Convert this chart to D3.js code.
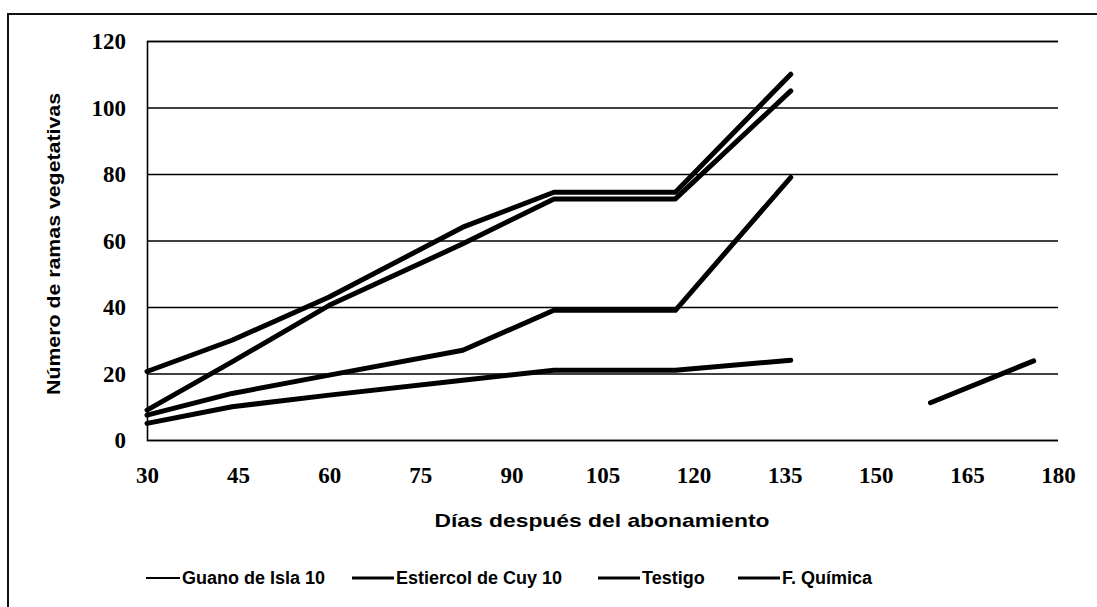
<!DOCTYPE html>
<html>
<head>
<meta charset="utf-8">
<script src="https://cdn.jsdelivr.net/npm/d3@7"></script>
<style>
  html, body { margin: 0; padding: 0; background: #fff; }
  svg { display: block; }
  .tick-label { font-family: "Liberation Serif", "Times New Roman", serif; font-weight: bold; font-size: 23px; fill: #000; }
  .axis-title, .legend-text { font-family: "Liberation Sans", Arial, sans-serif; font-weight: bold; fill: #000; }
</style>
</head>
<body>
<svg id="chart" width="1097" height="607"></svg>
<script>
// Días de muestreo después del abonamiento
const days = [30, 44, 60, 82, 97, 117, 136];

// Número de ramas vegetativas por tratamiento
const guanoIsla10    = [20.6, 30, 43, 64, 74.5, 74.5, 110];
const estiercolCuy10 = [9, 23.5, 40.5, 59, 72.5, 72.5, 105];
const testigo        = [5, 10, 13.5, 18, 21, 21, 24];
const fQuimica       = [7.5, 14, 19.5, 27, 39, 39, 79];

// Tramo final registrado por separado
const lateDays = [159, 176];
const lateValues = [11.2, 23.8];

const seriesNames = ["Guano de Isla 10", "Estiercol de Cuy 10", "Testigo", "F. Química"];
const xTicks = [30, 45, 60, 75, 90, 105, 120, 135, 150, 165, 180];
const yTicks = [0, 20, 40, 60, 80, 100, 120];

const svg = d3.select("#chart");
const W = 1097, H = 607;
const plot = { left: 147, right: 1058, top: 41, bottom: 440 };

const x = d3.scaleLinear().domain([30, 180]).range([plot.left, plot.right]);
const y = d3.scaleLinear().domain([0, 120]).range([plot.bottom, plot.top]);

// Marco exterior (borde superior e izquierdo)
svg.append("path")
  .attr("d", `M8,${H} L8,14 L${W},14`)
  .attr("fill", "none")
  .attr("stroke", "#111")
  .attr("stroke-width", 2);

// Líneas de cuadrícula horizontales y eje vertical
const yAxis = d3.axisLeft(y).tickValues(yTicks).tickSize(-(plot.right - plot.left)).tickFormat(d3.format("d"));
const gy = svg.append("g").attr("transform", `translate(${plot.left},0)`).call(yAxis);
gy.select(".domain").attr("stroke", "#000").attr("stroke-width", 1.6);
gy.selectAll(".tick line").attr("stroke", "#000").attr("stroke-width", 1.6);
gy.selectAll(".tick text").attr("class", "tick-label").attr("x", -21).attr("dy", "0.34em");

// Eje X: sólo etiquetas
const xAxis = d3.axisBottom(x).tickValues(xTicks).tickSize(0).tickFormat(d3.format("d"));
const gx = svg.append("g").attr("transform", `translate(0,${plot.bottom})`).call(xAxis);
gx.select(".domain").remove();
gx.selectAll(".tick text").attr("class", "tick-label").attr("y", 27).attr("dy", "0.71em");

// Series
const line = d3.line().x(d => x(d[0])).y(d => y(d[1]));
const allSeries = [guanoIsla10, estiercolCuy10, testigo, fQuimica];
const g = svg.append("g");
allSeries.forEach(vals => {
  g.append("path")
    .datum(days.map((d, i) => [d, vals[i]]))
    .attr("d", line)
    .attr("fill", "none")
    .attr("stroke", "#000")
    .attr("stroke-width", 5)
    .attr("stroke-linecap", "round")
    .attr("stroke-linejoin", "round");
});
g.append("path")
  .datum(lateDays.map((d, i) => [d, lateValues[i]]))
  .attr("d", line)
  .attr("fill", "none")
  .attr("stroke", "#000")
  .attr("stroke-width", 5)
  .attr("stroke-linecap", "round");

// Títulos de ejes
svg.append("text")
  .attr("class", "axis-title")
  .attr("x", 602)
  .attr("y", 527)
  .attr("text-anchor", "middle")
  .attr("font-size", 19)
  .attr("textLength", 335)
  .attr("lengthAdjust", "spacingAndGlyphs")
  .text("Días después del abonamiento");

svg.append("text")
  .attr("class", "axis-title")
  .attr("transform", `translate(60,244) rotate(-90)`)
  .attr("text-anchor", "middle")
  .attr("font-size", 19)
  .attr("textLength", 302)
  .attr("lengthAdjust", "spacingAndGlyphs")
  .text("Número de ramas vegetativas");

// Leyenda
const legendX = [146, 352, 598, 738];
const legendLen = [34, 42, 42, 42];
const leg = svg.append("g");
seriesNames.forEach((name, i) => {
  const lx = legendX[i];
  leg.append("line")
    .attr("x1", lx).attr("x2", lx + legendLen[i])
    .attr("y1", 578).attr("y2", 578)
    .attr("stroke", "#000")
    .attr("stroke-width", i === 0 ? 2 : 3);
  leg.append("text")
    .attr("class", "legend-text")
    .attr("x", lx + legendLen[i] + 2)
    .attr("y", 584)
    .attr("font-size", 18)
    .text(name);
});
</script>
</body>
</html>
